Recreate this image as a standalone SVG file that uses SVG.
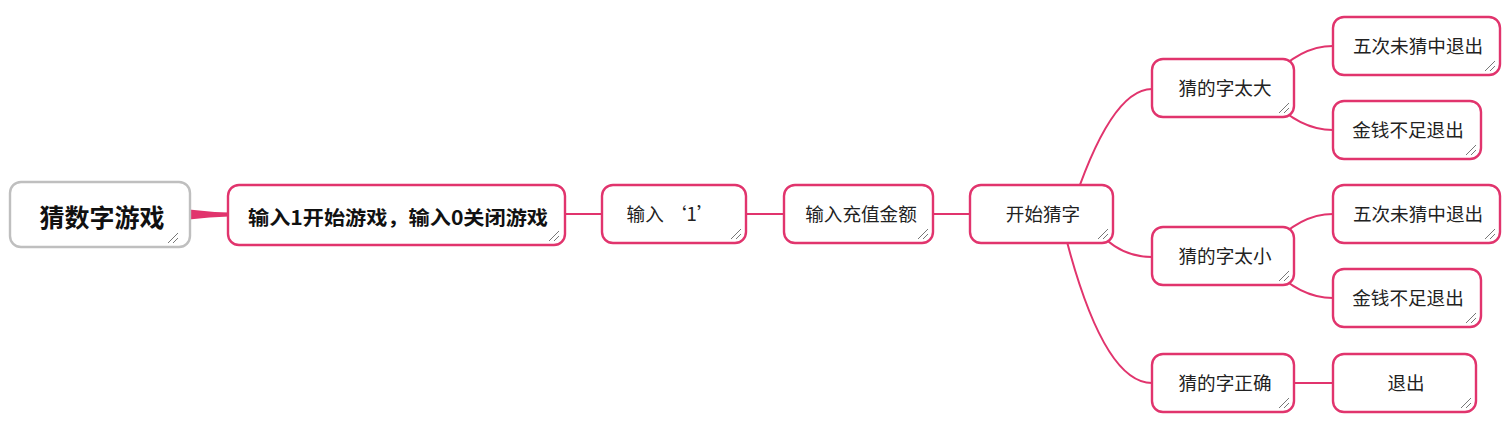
<svg xmlns="http://www.w3.org/2000/svg" width="1510" height="422" viewBox="0 0 1510 422">
<defs>
<style>
.n{fill:#fff;stroke:#e1346d;stroke-width:2.4}
.r{fill:#fff;stroke:#bfbfbf;stroke-width:2.4}
.c{fill:none;stroke:#e1346d;stroke-width:2}
.t{font-family:"Noto Sans CJK SC","Noto Sans",sans-serif;font-size:18.6px;fill:#222;text-anchor:middle}
.b{font-weight:bold;fill:#111}
.g{fill:none;stroke:#777;stroke-width:1}
</style>
</defs>
<rect width="1510" height="422" fill="#fff"/>
<g id="connectors">
<path d="M189,209.5 Q210,212 229,212.5 L229,216.5 Q210,217 189,219.5 Z" fill="#e1346d"/>
<path class="c" d="M565,214 H602"/>
<path class="c" d="M746,214 H784"/>
<path class="c" d="M933,214 H970"/>
<path class="c" d="M1070,214 Q1110,89 1152,89"/>
<path class="c" d="M1080,214 C1105,240 1120,257 1152,257"/>
<path class="c" d="M1060,214 Q1100,383 1152,383"/>
<path class="c" d="M1262,89 Q1295,46 1333,46"/>
<path class="c" d="M1262,89 Q1295,130 1333,130"/>
<path class="c" d="M1262,257 Q1295,214 1333,214"/>
<path class="c" d="M1262,257 Q1295,298 1333,298"/>
<path class="c" d="M1294,383 H1333"/>
</g>
<g id="root">
<rect class="r" x="10" y="182" width="180" height="65" rx="11"/>
<text class="t b" x="102" y="227" style="font-size:25px">猜数字游戏</text>
<path class="g" d="M168,243 L178,233 M173,243 L178,238"/>
</g>
<g id="n1">
<rect class="n" x="228" y="185" width="337" height="60" rx="11"/>
<text class="t b" x="398" y="225" style="font-size:19.5px" textLength="300" lengthAdjust="spacingAndGlyphs">输入1开始游戏，输入0关闭游戏</text>
<path class="g" d="M549,241 L559,231 M554,241 L559,236"/>
</g>
<g id="n2">
<rect class="n" x="602" y="185" width="144" height="58" rx="11"/>
<text class="t" x="671" y="221">输入 ‘1’</text>
<path class="g" d="M731,239 L741,229 M736,239 L741,234"/>
</g>
<g id="n3">
<rect class="n" x="784" y="185" width="149" height="58" rx="11"/>
<text class="t" x="861" y="221">输入充值金额</text>
<path class="g" d="M918,239 L928,229 M923,239 L928,234"/>
</g>
<g id="n4">
<rect class="n" x="970" y="185" width="143" height="58" rx="11"/>
<text class="t" x="1043" y="221">开始猜字</text>
<path class="g" d="M1098,239 L1108,229 M1103,239 L1108,234"/>
</g>
<g id="n5">
<rect class="n" x="1152" y="59" width="142" height="58" rx="11"/>
<text class="t" x="1225" y="95">猜的字太大</text>
<path class="g" d="M1279,113 L1289,103 M1284,113 L1289,108"/>
</g>
<g id="n6">
<rect class="n" x="1152" y="227" width="142" height="58" rx="11"/>
<text class="t" x="1225" y="263">猜的字太小</text>
<path class="g" d="M1279,281 L1289,271 M1284,281 L1289,276"/>
</g>
<g id="n7">
<rect class="n" x="1152" y="354" width="142" height="58" rx="11"/>
<text class="t" x="1225" y="390">猜的字正确</text>
<path class="g" d="M1279,408 L1289,398 M1284,408 L1289,403"/>
</g>
<g id="l1">
<rect class="n" x="1333" y="17" width="167" height="58" rx="11"/>
<text class="t" x="1418" y="53">五次未猜中退出</text>
<path class="g" d="M1485,71 L1495,61 M1490,71 L1495,66"/>
</g>
<g id="l2">
<rect class="n" x="1333" y="101" width="148" height="58" rx="11"/>
<text class="t" x="1408" y="137">金钱不足退出</text>
<path class="g" d="M1466,155 L1476,145 M1471,155 L1476,150"/>
</g>
<g id="l3">
<rect class="n" x="1333" y="185" width="167" height="58" rx="11"/>
<text class="t" x="1418" y="221">五次未猜中退出</text>
<path class="g" d="M1485,239 L1495,229 M1490,239 L1495,234"/>
</g>
<g id="l4">
<rect class="n" x="1333" y="269" width="148" height="58" rx="11"/>
<text class="t" x="1408" y="305">金钱不足退出</text>
<path class="g" d="M1466,323 L1476,313 M1471,323 L1476,318"/>
</g>
<g id="l5">
<rect class="n" x="1333" y="354" width="143" height="58" rx="11"/>
<text class="t" x="1406" y="390">退出</text>
<path class="g" d="M1461,408 L1471,398 M1466,408 L1471,403"/>
</g>
</svg>
